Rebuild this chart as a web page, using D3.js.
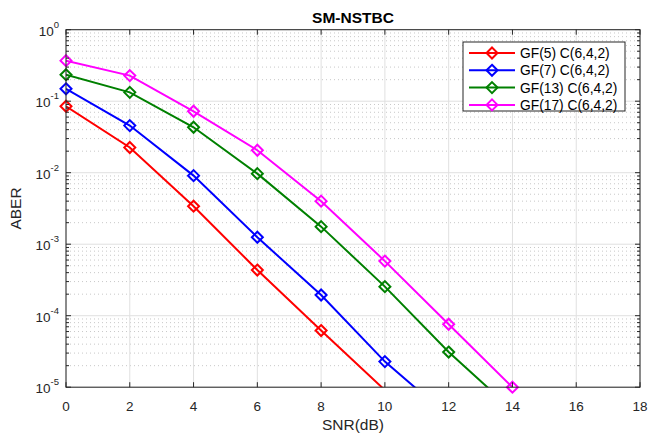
<!DOCTYPE html>
<html>
<head>
<meta charset="utf-8">
<script src="https://cdn.jsdelivr.net/npm/d3@7"></script>
<style>
  body { margin: 0; background: #fff; }
  text { font-family: "Liberation Sans", Arial, sans-serif; fill: #262626; }
</style>
</head>
<body>
<div class="container"></div>
<script>
// SNR points and ABER for each GF series
const snr = [0, 2, 4, 6, 8, 10, 12, 14];
const gf5 = [0.085, 0.0225, 0.0034, 4.35e-4, 6.2e-5, 9.1e-6];
const gf7 = [0.149, 0.0456, 0.0091, 1.25e-3, 1.95e-4, 2.28e-5, 3.9e-6];
const gf13 = [0.235, 0.133, 0.0432, 0.0097, 1.76e-3, 2.55e-4, 3.1e-5, 4.8e-6];
const gf17 = [0.369, 0.228, 0.0723, 0.0206, 0.004, 5.8e-4, 7.6e-5, 1.0e-5];
const names = ["GF(5) C(6,4,2)", "GF(7) C(6,4,2)", "GF(13) C(6,4,2)", "GF(17) C(6,4,2)"];
const colors = ["#ff0000", "#0000ff", "#008000", "#ff00ff"];
const xTicks = [0, 2, 4, 6, 8, 10, 12, 14, 16, 18];
const yExps = [0, -1, -2, -3, -4, -5];

const series = [gf5, gf7, gf13, gf17].map((vals, i) => ({
  name: names[i],
  color: colors[i],
  points: vals.map((v, j) => ({ x: snr[j], y: v })),
}));

const W = 649, H = 435;
const margin = { top: 29.7, right: 9, bottom: 47.8, left: 66 };
const width = W - margin.left - margin.right;
const height = H - margin.top - margin.bottom;

const svg = d3.select(".container").append("svg")
  .attr("width", W).attr("height", H);

const g = svg.append("g")
  .attr("transform", `translate(${margin.left},${margin.top})`);

const x = d3.scaleLinear().domain([0, 18]).range([0, width]);
const y = d3.scaleLog().domain([1e-5, 1]).range([height, 0]);

// minor values on the log axis
const minor = [];
for (let e = -5; e < 0; e++) {
  for (let m = 2; m <= 9; m++) minor.push(m * Math.pow(10, e));
}

// grid
g.append("g").selectAll("line").data(minor).enter().append("line")
  .attr("x1", 0).attr("x2", width)
  .attr("y1", (d) => y(d)).attr("y2", (d) => y(d))
  .attr("stroke", "#c8c8c8").attr("stroke-width", 1)
  .attr("stroke-dasharray", "1,3");

g.append("g").selectAll("line").data(xTicks).enter().append("line")
  .attr("x1", (d) => x(d)).attr("x2", (d) => x(d))
  .attr("y1", 0).attr("y2", height)
  .attr("stroke", "#e0e0e0").attr("stroke-width", 1);

g.append("g").selectAll("line").data(yExps).enter().append("line")
  .attr("x1", 0).attr("x2", width)
  .attr("y1", (d) => y(Math.pow(10, d))).attr("y2", (d) => y(Math.pow(10, d)))
  .attr("stroke", "#e0e0e0").attr("stroke-width", 1);

// data
g.append("clipPath").attr("id", "clip")
  .append("rect").attr("width", width).attr("height", height);

const line = d3.line().x((d) => x(d.x)).y((d) => y(d.y));

const diamond = (r) => `M0,${-r} L${r},0 L0,${r} L${-r},0 Z`;

series.forEach((s) => {
  g.append("path")
    .attr("d", line(s.points))
    .attr("clip-path", "url(#clip)")
    .attr("fill", "none")
    .attr("stroke", s.color)
    .attr("stroke-width", 2);

  g.append("g").selectAll("path")
    .data(s.points.filter((p) => p.y >= 1e-5 * 0.999))
    .enter().append("path")
    .attr("transform", (p) => `translate(${x(p.x)},${y(p.y)})`)
    .attr("d", diamond(5.5))
    .attr("fill", "none")
    .attr("stroke", s.color)
    .attr("stroke-width", 2);
});

// box and ticks
const axisColor = "#262626";
g.append("rect").attr("width", width).attr("height", height)
  .attr("fill", "none").attr("stroke", axisColor).attr("stroke-width", 1);

const ticks = g.append("g").attr("stroke", axisColor).attr("stroke-width", 1);
xTicks.forEach((t) => {
  ticks.append("line").attr("x1", x(t)).attr("x2", x(t)).attr("y1", height).attr("y2", height - 5);
  ticks.append("line").attr("x1", x(t)).attr("x2", x(t)).attr("y1", 0).attr("y2", 5);
});
yExps.forEach((e) => {
  const yy = y(Math.pow(10, e));
  ticks.append("line").attr("x1", 0).attr("x2", 5).attr("y1", yy).attr("y2", yy);
  ticks.append("line").attr("x1", width).attr("x2", width - 5).attr("y1", yy).attr("y2", yy);
});
minor.forEach((m) => {
  const yy = y(m);
  ticks.append("line").attr("x1", 0).attr("x2", 3).attr("y1", yy).attr("y2", yy);
  ticks.append("line").attr("x1", width).attr("x2", width - 3).attr("y1", yy).attr("y2", yy);
});

// tick labels
g.append("g").selectAll("text").data(xTicks).enter().append("text")
  .attr("x", (d) => x(d)).attr("y", height + 24)
  .attr("text-anchor", "middle").attr("font-size", 13.5)
  .text((d) => d);

const yl = g.append("g").selectAll("text").data(yExps).enter().append("text")
  .attr("x", -7).attr("y", (d) => y(Math.pow(10, d)) + 6)
  .attr("text-anchor", "end").attr("font-size", 13.5);
yl.append("tspan").text("10");
yl.append("tspan").attr("dy", -8).attr("font-size", 9.5).text((d) => d);

// titles
svg.append("text")
  .attr("x", margin.left + width / 2).attr("y", 23)
  .attr("text-anchor", "middle").attr("font-size", 15.5).attr("font-weight", "bold")
  .style("fill", "#000")
  .text("SM-NSTBC");

svg.append("text")
  .attr("x", margin.left + width / 2).attr("y", 430)
  .attr("text-anchor", "middle").attr("font-size", 15.5)
  .text("SNR(dB)");

svg.append("text")
  .attr("transform", `translate(21,${margin.top + height / 2}) rotate(-90)`)
  .attr("text-anchor", "middle").attr("font-size", 15.5)
  .text("ABER");

// legend
const lg = svg.append("g").attr("transform", "translate(463,42)");
lg.append("rect").attr("width", 162).attr("height", 69)
  .attr("fill", "#fff").attr("stroke", axisColor).attr("stroke-width", 1);
series.forEach((s, i) => {
  const row = lg.append("g").attr("transform", `translate(0,${11 + i * 17.3})`);
  row.append("line").attr("x1", 6).attr("x2", 52)
    .attr("stroke", s.color).attr("stroke-width", 2);
  row.append("path").attr("transform", "translate(29,0)")
    .attr("d", diamond(5.5)).attr("fill", "none")
    .attr("stroke", s.color).attr("stroke-width", 2);
  row.append("text").attr("x", 57).attr("y", 5)
    .attr("font-size", 13.8).style("fill", "#000")
    .text(s.name);
});
</script>
</body>
</html>
